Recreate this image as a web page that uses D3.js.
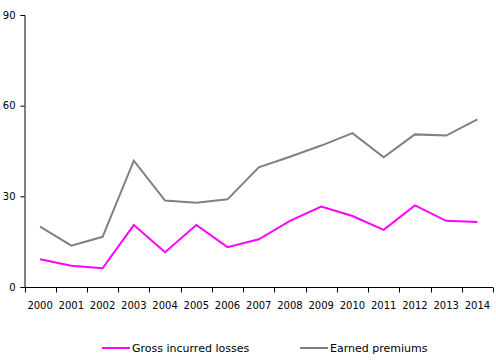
<!DOCTYPE html>
<html>
<head>
<meta charset="utf-8">
<script src="https://cdn.jsdelivr.net/npm/d3@7"></script>
<style>
  body { margin: 0; background: #fff; }
  svg text { font-family: "DejaVu Sans", sans-serif; font-size: 10px; fill: #000; }
</style>
</head>
<body>
<div id="chart"></div>
<script>
  const years = ['2000', '2001', '2002', '2003', '2004', '2005', '2006', '2007',
                 '2008', '2009', '2010', '2011', '2012', '2013', '2014'];
  const grossLosses = [9.2, 7.0, 6.2, 20.5, 11.5, 20.5, 13.2, 15.8, 21.9, 26.6, 23.5, 18.9, 27.0, 21.9, 21.5];
  const earnedPremiums = [20.0, 13.7, 16.6, 41.8, 28.6, 27.9, 29.0, 39.6, 43.1, 46.8, 50.9, 42.9, 50.5, 50.1, 55.5];
  const yTicks = [0, 30, 60, 90];

  const series = [
    {name: 'Gross incurred losses', values: grossLosses, color: '#ff00ff'},
    {name: 'Earned premiums', values: earnedPremiums, color: '#808080'}
  ];

  const width = 496, height = 361;
  const svg = d3.select('#chart').append('svg')
      .attr('width', width)
      .attr('height', height);

  const x = d3.scaleBand().domain(years).range([24.5, 493]);
  const y = d3.scaleLinear().domain([0, 90]).range([287, 15]);

  // y axis
  const yAxis = svg.append('g')
      .attr('transform', 'translate(24.5,0)')
      .call(d3.axisLeft(y).tickValues(yTicks).tickSize(4).tickPadding(5));
  yAxis.selectAll('path, line').attr('stroke', '#000');

  // x axis, ticks at band edges
  const xAxis = svg.append('g')
      .attr('transform', 'translate(0,287.5)');
  xAxis.append('line')
      .attr('x1', x.range()[0]).attr('x2', x.range()[1])
      .attr('stroke', '#000');
  xAxis.selectAll('.tk')
    .data(years.concat(['end']))
    .join('line')
      .attr('class', 'tk')
      .attr('x1', (d, i) => Math.round(x.range()[0] + i * x.step()) + 0.5)
      .attr('x2', (d, i) => Math.round(x.range()[0] + i * x.step()) + 0.5)
      .attr('y1', 0).attr('y2', 5)
      .attr('stroke', '#000');
  xAxis.selectAll('text')
    .data(years)
    .join('text')
      .attr('x', d => x(d) + x.bandwidth() / 2)
      .attr('y', 21)
      .attr('text-anchor', 'middle')
      .text(d => d);
  svg.selectAll('.domain').attr('stroke', '#000');

  const line = d3.line()
      .x((d, i) => x(years[i]) + x.bandwidth() / 2)
      .y(d => y(d));

  svg.selectAll('.series')
    .data(series.slice().reverse())
    .join('path')
      .attr('class', 'series')
      .attr('fill', 'none')
      .attr('stroke', d => d.color)
      .attr('stroke-width', 2)
      .attr('d', d => line(d.values));

  // legend
  const legendX = [102, 300];
  const legend = svg.selectAll('.legend')
    .data(series)
    .join('g')
      .attr('class', 'legend')
      .attr('transform', (d, i) => `translate(${legendX[i]},348)`);
  legend.append('line')
      .attr('x1', 0).attr('x2', 28)
      .attr('stroke', d => d.color)
      .attr('stroke-width', 2);
  legend.append('text')
      .attr('x', 30)
      .attr('dy', '0.35em')
      .style('font-size', '11px')
      .text(d => d.name);
</script>
</body>
</html>
